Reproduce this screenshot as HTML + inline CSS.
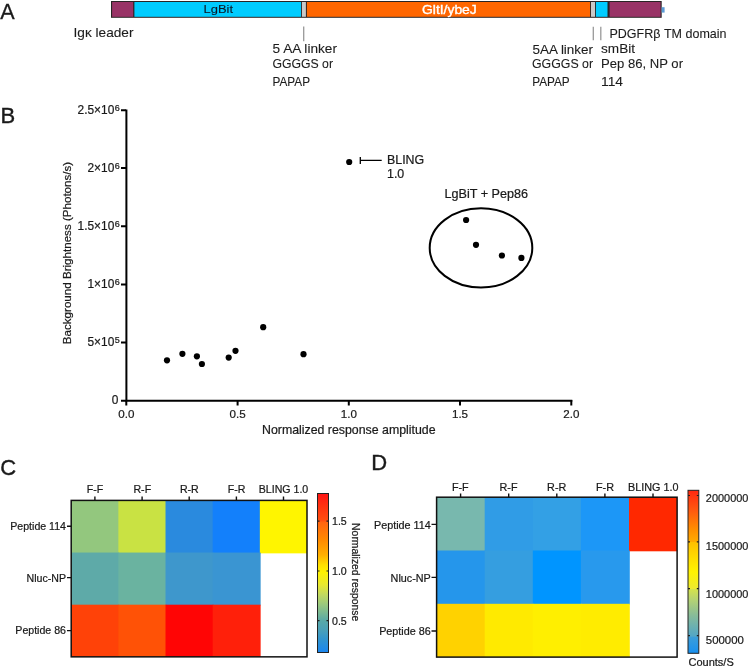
<!DOCTYPE html>
<html><head><meta charset="utf-8">
<style>
html,body{margin:0;padding:0;background:#fff;}
body{width:750px;height:666px;overflow:hidden;}
svg{display:block;font-family:"Liberation Sans",sans-serif;will-change:transform;}
.a{font-size:12.6px;fill:#1c1c1c;stroke:#1c1c1c;stroke-width:0.1px;}
text{stroke:#1a1a1a;stroke-width:0.22px;}
</style></head><body>
<svg width="750" height="666" viewBox="0 0 750 666">
<defs>
<linearGradient id="cbC" x1="0" y1="1" x2="0" y2="0">
<stop offset="0.000" stop-color="#1a86f0"/>
<stop offset="0.079" stop-color="#3094d0"/>
<stop offset="0.142" stop-color="#4aa0b8"/>
<stop offset="0.198" stop-color="#58a8a8"/>
<stop offset="0.299" stop-color="#98c880"/>
<stop offset="0.362" stop-color="#c0d860"/>
<stop offset="0.425" stop-color="#e8e830"/>
<stop offset="0.506" stop-color="#fff200"/>
<stop offset="0.550" stop-color="#ffe000"/>
<stop offset="0.613" stop-color="#ffb000"/>
<stop offset="0.707" stop-color="#ff8a00"/>
<stop offset="0.820" stop-color="#ff6410"/>
<stop offset="0.827" stop-color="#ff5010"/>
<stop offset="0.927" stop-color="#ff3010"/>
<stop offset="1.000" stop-color="#ff1515"/>
</linearGradient>
<linearGradient id="cbD" x1="0" y1="1" x2="0" y2="0">
<stop offset="0.000" stop-color="#1890f0"/>
<stop offset="0.101" stop-color="#3c9ed8"/>
<stop offset="0.104" stop-color="#52a6c6"/>
<stop offset="0.234" stop-color="#88bc98"/>
<stop offset="0.326" stop-color="#b4d274"/>
<stop offset="0.392" stop-color="#d4e24c"/>
<stop offset="0.395" stop-color="#ecea30"/>
<stop offset="0.498" stop-color="#fff300"/>
<stop offset="0.572" stop-color="#ffe000"/>
<stop offset="0.680" stop-color="#ffc000"/>
<stop offset="0.683" stop-color="#ffac00"/>
<stop offset="0.756" stop-color="#ff9000"/>
<stop offset="0.879" stop-color="#ff5810"/>
<stop offset="1.000" stop-color="#ff2810"/>
</linearGradient>
</defs>

<!-- ===== Panel A ===== -->
<text x="0.3" y="18.9" style="font-size:21.6px;fill:#1a1a1a;stroke-width:0.3px">A</text>
<rect x="111" y="1" width="550.7" height="16.8" fill="#2a2424"/>
<g shape-rendering="auto">
<rect x="112.1" y="2" width="21.1" height="14.8" fill="#993366"/>
<rect x="134.4" y="2" width="166.6" height="14.8" fill="#00ccff"/>
<rect x="301.9" y="2" width="4" height="14.8" fill="#c9c9c9"/>
<rect x="306.9" y="2" width="283.2" height="14.8" fill="#ff6600"/>
<rect x="591" y="2" width="4" height="14.8" fill="#c9c9c9"/>
<rect x="595.9" y="2" width="11.6" height="14.8" fill="#00ccff"/>
<rect x="609.6" y="2" width="51" height="14.8" fill="#993366"/>
</g>
<rect x="661.7" y="7.2" width="2.9" height="5.4" fill="#5b9bd5"/>
<text x="203.6" y="13.3" class="a" style="font-size:11.8px;fill:#0a1a28;stroke:#0a1a28" textLength="29.4" lengthAdjust="spacingAndGlyphs">LgBit</text>
<text x="422" y="13.9" class="a" style="font-size:12px;fill:#fff;stroke:#fff;stroke-width:0.35px" textLength="54.8" lengthAdjust="spacingAndGlyphs">GltI/ybeJ</text>

<line x1="303.7" y1="26.4" x2="303.7" y2="41.3" stroke="#999" stroke-width="1.3"/>
<line x1="593.3" y1="26.7" x2="593.3" y2="40.3" stroke="#999" stroke-width="1.3"/>
<line x1="600.8" y1="26.7" x2="600.8" y2="40.3" stroke="#999" stroke-width="1.3"/>

<text x="73.5" y="37.3" class="a" textLength="60" lengthAdjust="spacingAndGlyphs">Igκ leader</text>
<text x="272.5" y="53" class="a" textLength="64.5" lengthAdjust="spacingAndGlyphs">5 AA linker</text>
<text x="272.5" y="67.7" class="a" textLength="60.5" lengthAdjust="spacingAndGlyphs">GGGGS or</text>
<text x="272.5" y="86.3" class="a" textLength="37.5" lengthAdjust="spacingAndGlyphs">PAPAP</text>
<text x="532.5" y="53.5" class="a" textLength="60.5" lengthAdjust="spacingAndGlyphs">5AA linker</text>
<text x="532" y="67.5" class="a" textLength="61" lengthAdjust="spacingAndGlyphs">GGGGS or</text>
<text x="532.2" y="86.1" class="a" textLength="37.5" lengthAdjust="spacingAndGlyphs">PAPAP</text>
<text x="609.5" y="37.6" class="a" textLength="117" lengthAdjust="spacingAndGlyphs">PDGFRβ TM domain</text>
<text x="601" y="53" class="a" textLength="34" lengthAdjust="spacingAndGlyphs">smBit</text>
<text x="601" y="68" class="a" textLength="82" lengthAdjust="spacingAndGlyphs">Pep 86, NP or</text>
<text x="601" y="86" class="a" textLength="22" lengthAdjust="spacingAndGlyphs">114</text>

<!-- ===== Panel B ===== -->
<text x="0.4" y="123.2" style="font-size:22px;fill:#1a1a1a;stroke-width:0.4px">B</text>
<g stroke="#000" stroke-width="2" fill="none">
<path d="M126.4 109.4 V401.8 M125.4 400.8 H572.3"/>
<path d="M121 110.2 H126 M121 168 H126 M121 226.2 H126 M121 284.4 H126 M121 342.6 H126 M121 400.8 H126"/>
<path d="M126.3 400 V405.5 M237.6 400 V405.5 M348.8 400 V405.5 M460 400 V405.5 M571.3 400 V405.5"/>
</g>
<g style="font-size:11.9px;fill:#1a1a1a" text-anchor="end">
<text x="114.3" y="114.1">2.5×10</text><text x="119.7" y="111.0" style="font-size:9px">6</text>
<text x="114.3" y="171.9">2×10</text><text x="119.7" y="168.8" style="font-size:9px">6</text>
<text x="114.3" y="230.1">1.5×10</text><text x="119.7" y="227.0" style="font-size:9px">6</text>
<text x="114.3" y="288.3">1×10</text><text x="119.7" y="285.2" style="font-size:9px">6</text>
<text x="114.3" y="346.3">5×10</text><text x="119.7" y="343.2" style="font-size:9px">5</text>
<text x="118.3" y="403.7">0</text>
</g>
<g style="font-size:11.6px;fill:#1a1a1a" text-anchor="middle">
<text x="126.3" y="418.4">0.0</text>
<text x="237.6" y="418.4">0.5</text>
<text x="348.8" y="418.4">1.0</text>
<text x="460" y="418.4">1.5</text>
<text x="571.3" y="418.4">2.0</text>
</g>
<text x="348.8" y="434.3" text-anchor="middle" style="font-size:12.35px;fill:#1a1a1a">Normalized response amplitude</text>
<text transform="translate(70.5 253) rotate(-90)" text-anchor="middle" style="font-size:11.6px;fill:#1a1a1a">Background Brightness (Photons/s)</text>

<g fill="#000">
<circle cx="167" cy="360.3" r="3.1"/>
<circle cx="182.4" cy="353.8" r="3.1"/>
<circle cx="196.9" cy="356.3" r="3.1"/>
<circle cx="201.9" cy="364" r="3.1"/>
<circle cx="228.7" cy="357.6" r="3.1"/>
<circle cx="235.5" cy="350.8" r="3.1"/>
<circle cx="263.2" cy="327.2" r="3.1"/>
<circle cx="303.5" cy="354.2" r="3.1"/>
<circle cx="349.2" cy="162" r="3.1"/>
<circle cx="466.1" cy="220" r="3.1"/>
<circle cx="476" cy="244.8" r="3.1"/>
<circle cx="501.9" cy="255.5" r="3.1"/>
<circle cx="521.4" cy="257.9" r="3.1"/>
</g>
<path d="M360.3 157 V164 M360.3 160.4 H381.7" stroke="#000" stroke-width="1.3" fill="none"/>
<text x="387" y="164.1" style="font-size:12.4px;fill:#1a1a1a">BLING</text>
<text x="387" y="178.1" style="font-size:12.4px;fill:#1a1a1a">1.0</text>
<text x="444.5" y="197.6" style="font-size:12.6px;fill:#1a1a1a">LgBiT + Pep86</text>
<ellipse cx="481" cy="247.9" rx="51.3" ry="39.6" fill="none" stroke="#000" stroke-width="2"/>

<!-- ===== Panel C ===== -->
<text x="0.2" y="474.5" style="font-size:22px;fill:#1a1a1a;stroke-width:0.4px">C</text>
<g>
<rect x="71.20" y="500.40" width="47.96" height="52.95" fill="#93c77e"/>
<rect x="118.36" y="500.40" width="47.96" height="52.95" fill="#c9e243"/>
<rect x="165.52" y="500.40" width="47.96" height="52.95" fill="#2a8ade"/>
<rect x="212.68" y="500.40" width="47.96" height="52.95" fill="#1380fb"/>
<rect x="259.84" y="500.40" width="47.16" height="52.95" fill="#fff500"/>
<rect x="71.20" y="552.55" width="47.96" height="52.95" fill="#5eaaa8"/>
<rect x="118.36" y="552.55" width="47.96" height="52.95" fill="#6ab3a0"/>
<rect x="165.52" y="552.55" width="47.96" height="52.95" fill="#3e97cc"/>
<rect x="212.68" y="552.55" width="47.96" height="52.95" fill="#3a95d2"/>
<rect x="71.20" y="604.70" width="47.96" height="52.15" fill="#ff4208"/>
<rect x="118.36" y="604.70" width="47.96" height="52.15" fill="#ff5206"/>
<rect x="165.52" y="604.70" width="47.96" height="52.15" fill="#ff0505"/>
<rect x="212.68" y="604.70" width="47.96" height="52.15" fill="#ff200a"/>
</g>
<rect x="71.2" y="500.4" width="235.8" height="156.45" fill="none" stroke="#111" stroke-width="1.5"/>
<g stroke="#111" stroke-width="1.4">
<path d="M94.9 496.4 V500 M142.1 496.4 V500 M189.2 496.4 V500 M236.4 496.4 V500 M283.5 496.4 V500"/>
<path d="M67 526.3 H71 M67 577.6 H71 M67 630.6 H71"/>
</g>
<g style="font-size:10.6px;fill:#1a1a1a" text-anchor="middle">
<text x="95" y="493.3">F-F</text>
<text x="142.3" y="493.3">R-F</text>
<text x="189.3" y="493.3">R-R</text>
<text x="236.7" y="493.3">F-R</text>
<text x="283.5" y="493.3">BLING 1.0</text>
</g>
<g style="font-size:10.6px;fill:#1a1a1a" text-anchor="end">
<text x="66" y="529.8">Peptide 114</text>
<text x="66" y="581.5">Nluc-NP</text>
<text x="66" y="634.4">Peptide 86</text>
</g>
<rect x="317.5" y="493.5" width="11" height="159" fill="url(#cbC)" stroke="#222" stroke-width="1"/>
<g stroke="#222" stroke-width="1.2">
<path d="M317.5 521.2 H319.5 M326.5 521.2 H328.5 M317.5 571 H319.5 M326.5 571 H328.5 M317.5 620.7 H319.5 M326.5 620.7 H328.5"/>
</g>
<g style="font-size:10.6px;fill:#1a1a1a">
<text x="332" y="525">1.5</text>
<text x="332" y="574.8">1.0</text>
<text x="332" y="624.6">0.5</text>
</g>
<text transform="translate(352.2 572.2) rotate(90)" text-anchor="middle" style="font-size:10.4px;fill:#1a1a1a">Normalized response</text>

<!-- ===== Panel D ===== -->
<text x="371.3" y="469.9" style="font-size:22px;fill:#1a1a1a;stroke-width:0.4px">D</text>
<g>
<rect x="436.60" y="497.20" width="48.90" height="54.10" fill="#78b8ae"/>
<rect x="484.70" y="497.20" width="48.90" height="54.10" fill="#309ce6"/>
<rect x="532.80" y="497.20" width="48.90" height="54.10" fill="#33a0e5"/>
<rect x="580.90" y="497.20" width="48.90" height="54.10" fill="#1c97f7"/>
<rect x="629.00" y="497.20" width="48.10" height="54.10" fill="#ff2800"/>
<rect x="436.60" y="550.50" width="48.90" height="54.10" fill="#2596eb"/>
<rect x="484.70" y="550.50" width="48.90" height="54.10" fill="#359ee0"/>
<rect x="532.80" y="550.50" width="48.90" height="54.10" fill="#0095ff"/>
<rect x="580.90" y="550.50" width="48.90" height="54.10" fill="#2899ed"/>
<rect x="436.60" y="603.80" width="48.90" height="53.30" fill="#ffd200"/>
<rect x="484.70" y="603.80" width="48.90" height="53.30" fill="#ffea00"/>
<rect x="532.80" y="603.80" width="48.90" height="53.30" fill="#ffef00"/>
<rect x="580.90" y="603.80" width="48.90" height="53.30" fill="#ffec00"/>
</g>
<rect x="436.6" y="497.2" width="240.5" height="159.9" fill="none" stroke="#111" stroke-width="1.5"/>
<g stroke="#111" stroke-width="1.4">
<path d="M460.6 493.6 V497.2 M508.7 493.6 V497.2 M556.8 493.6 V497.2 M604.9 493.6 V497.2 M653 493.6 V497.2"/>
<path d="M431.5 524.4 H436.3 M431.5 577.4 H436.3 M431.5 631 H436.3"/>
</g>
<g style="font-size:10.8px;fill:#1a1a1a" text-anchor="middle">
<text x="460.3" y="490.8">F-F</text>
<text x="508.5" y="490.8">R-F</text>
<text x="556.7" y="490.8">R-R</text>
<text x="605" y="490.8">F-R</text>
<text x="653.3" y="490.8">BLING 1.0</text>
</g>
<g style="font-size:10.8px;fill:#1a1a1a" text-anchor="end">
<text x="430.8" y="528.9">Peptide 114</text>
<text x="430.8" y="581.5">Nluc-NP</text>
<text x="430.8" y="635">Peptide 86</text>
</g>
<rect x="688" y="490.3" width="10.8" height="163" fill="url(#cbD)" stroke="#222" stroke-width="1"/>
<g stroke="#222" stroke-width="1.2">
<path d="M688 495.5 H690 M696.8 495.5 H698.8 M688 541.9 H690 M696.8 541.9 H698.8 M688 588.7 H690 M696.8 588.7 H698.8 M688 635.7 H690 M696.8 635.7 H698.8"/>
</g>
<g style="font-size:11.4px;fill:#1a1a1a">
<text x="705.8" y="501.9" textLength="42.6" lengthAdjust="spacingAndGlyphs">2000000</text>
<text x="705.8" y="550.1" textLength="42.6" lengthAdjust="spacingAndGlyphs">1500000</text>
<text x="705.8" y="597.7" textLength="42.6" lengthAdjust="spacingAndGlyphs">1000000</text>
<text x="705.8" y="643.8">500000</text>
</g>
<text x="688.5" y="665.5" style="font-size:11px;fill:#1a1a1a">Counts/S</text>
</svg>
</body></html>
